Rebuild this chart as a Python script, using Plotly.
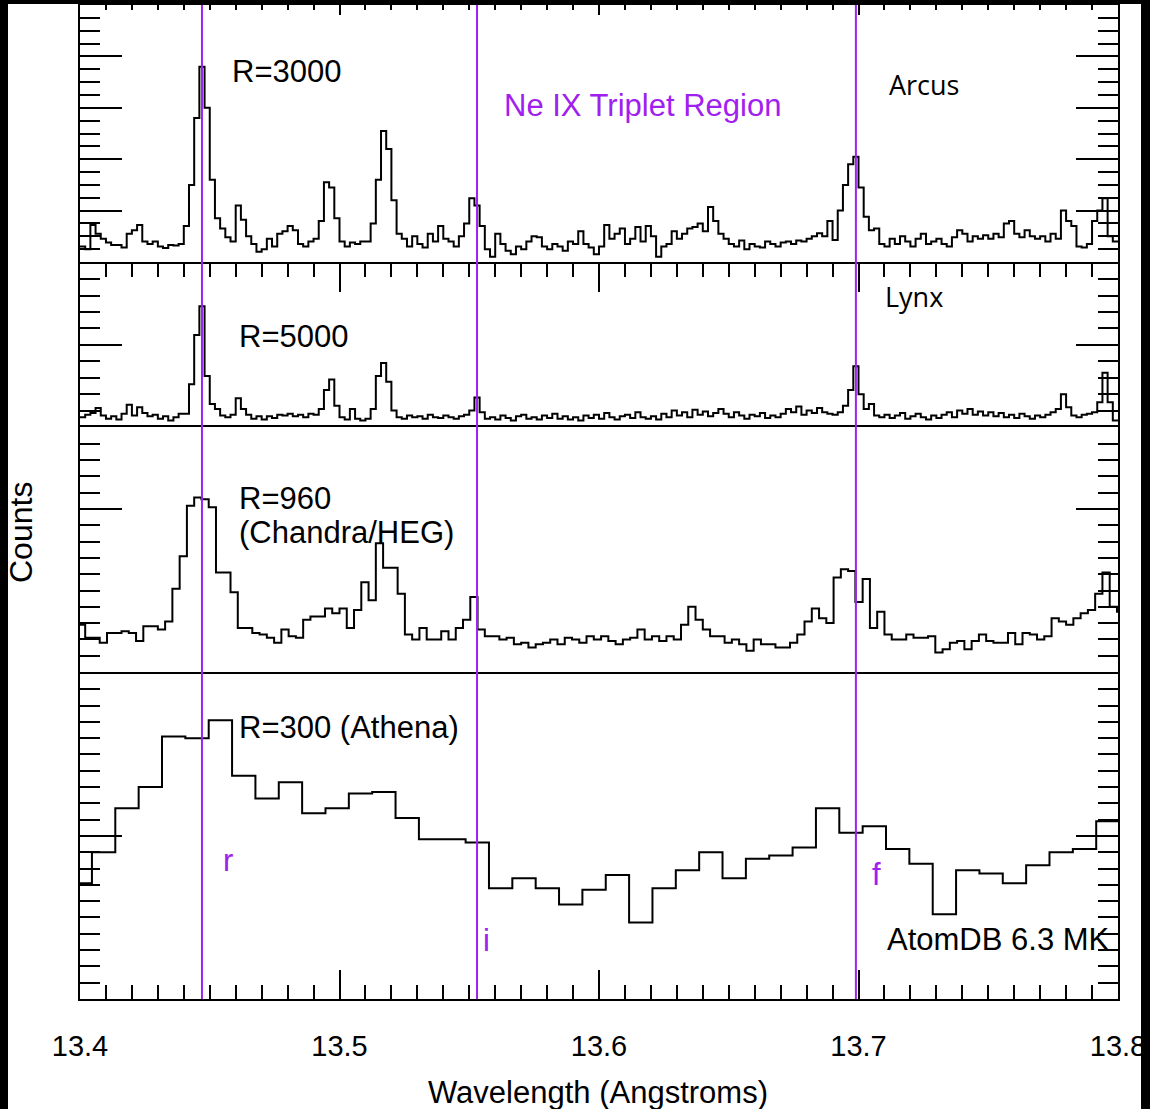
import numpy as np
import plotly.graph_objects as go

# ---------------- data ----------------
# Arcus (R=3000): bins of 0.002 A starting at 13.400
arcus_start, arcus_width = 13.400, 0.002
arcus_counts = [
    0.30, 0.25, 0.72, 0.55, 0.45,  0.38, 0.33, 0.33, 0.28, 0.55,
    0.62, 0.72, 0.40, 0.35, 0.40,  0.30, 0.27, 0.33, 0.32, 0.35,
    0.70, 1.50, 2.80, 3.80, 3.00,  1.60, 0.85, 0.65, 0.48, 0.40,
    1.10, 0.82, 0.50, 0.35, 0.20,  0.25, 0.45, 0.30, 0.55, 0.60,
    0.70, 0.62, 0.35, 0.30, 0.40,  0.45, 0.80, 1.55, 1.45, 0.85,
    0.40, 0.30, 0.38, 0.35, 0.40,  0.40, 0.75, 1.60, 2.55, 2.20,
    1.20, 0.55, 0.45, 0.30, 0.50,  0.35, 0.28, 0.55, 0.40, 0.70,
    0.45, 0.40, 0.30, 0.50, 0.75,  1.24, 1.10, 0.70, 0.25, 0.10,
    0.55, 0.35, 0.22, 0.15, 0.30,  0.25, 0.40, 0.50, 0.48, 0.30,
    0.25, 0.35, 0.30, 0.22, 0.40,  0.35, 0.60, 0.35, 0.28, 0.15,
    0.30, 0.72, 0.45, 0.55, 0.65,  0.35, 0.45, 0.68, 0.40, 0.70,
    0.50, 0.10, 0.30, 0.35, 0.60,  0.45, 0.55, 0.65, 0.68, 0.75,
    0.60, 1.07, 0.80, 0.55, 0.45,  0.35, 0.30, 0.42, 0.25, 0.35,
    0.30, 0.28, 0.40, 0.35, 0.30,  0.38, 0.40, 0.35, 0.42, 0.40,
    0.45, 0.50, 0.56, 0.50, 0.80,  0.43, 1.00, 1.50, 1.90, 2.05,
    1.45, 0.88, 0.62, 0.65, 0.35,  0.30, 0.45, 0.35, 0.50, 0.40,
    0.30, 0.45, 0.55, 0.35, 0.40,  0.45, 0.35, 0.30, 0.48, 0.62,
    0.55, 0.40, 0.50, 0.45, 0.52,  0.45, 0.55, 0.48, 0.75, 0.80,
    0.55, 0.48, 0.62, 0.50, 0.45,  0.50, 0.40, 0.55, 0.45, 1.00,
    0.80, 0.70, 0.30, 0.28, 0.35,  0.80, 1.00, 1.24, 0.50, 0.40,
]

# Lynx (R=5000): bins of 0.002 A starting at 13.400
lynx_start, lynx_width = 13.400, 0.002
lynx_counts = [
    0.12, 0.15, 0.17, 0.23, 0.14,  0.10, 0.13, 0.09, 0.16, 0.27,
    0.14, 0.24, 0.17, 0.13, 0.15,  0.10, 0.13, 0.08, 0.12, 0.16,
    0.16, 0.52, 1.12, 1.47, 0.62,  0.28, 0.22, 0.14, 0.12, 0.15,
    0.35, 0.22, 0.15, 0.10, 0.13,  0.09, 0.13, 0.11, 0.15, 0.14,
    0.16, 0.13, 0.15, 0.12, 0.16,  0.15, 0.22, 0.45, 0.58, 0.26,
    0.12, 0.09, 0.22, 0.10, 0.08,  0.10, 0.22, 0.62, 0.78, 0.55,
    0.20, 0.12, 0.10, 0.14, 0.12,  0.13, 0.10, 0.15, 0.12, 0.11,
    0.14, 0.12, 0.10, 0.13, 0.15,  0.20, 0.36, 0.18, 0.10, 0.12,
    0.09, 0.14, 0.11, 0.08, 0.13,  0.15, 0.10, 0.12, 0.09, 0.14,
    0.11, 0.16, 0.10, 0.13, 0.09,  0.12, 0.08, 0.14, 0.11, 0.15,
    0.10, 0.17, 0.12, 0.09, 0.13,  0.15, 0.11, 0.18, 0.12, 0.10,
    0.13, 0.09, 0.16, 0.12, 0.20,  0.14, 0.18, 0.12, 0.21, 0.15,
    0.19, 0.13, 0.17, 0.22, 0.16,  0.12, 0.18, 0.14, 0.10, 0.15,
    0.13, 0.17, 0.11, 0.14, 0.12,  0.16, 0.22, 0.18, 0.25, 0.15,
    0.20, 0.17, 0.23, 0.18, 0.16,  0.15, 0.18, 0.26, 0.45, 0.74,
    0.40, 0.22, 0.28, 0.14, 0.12,  0.15, 0.11, 0.14, 0.17, 0.10,
    0.13, 0.16, 0.12, 0.09, 0.14,  0.11, 0.15, 0.18, 0.12, 0.20,
    0.16, 0.22, 0.15, 0.19, 0.14,  0.18, 0.13, 0.17, 0.12, 0.15,
    0.11, 0.16, 0.13, 0.10, 0.14,  0.12, 0.15, 0.18, 0.22, 0.40,
    0.24, 0.14, 0.12, 0.15, 0.16,  0.18, 0.30, 0.66, 0.30, 0.08,
]

# Chandra/HEG (R=960): bins of 0.0028 A starting at 13.3992
heg_start, heg_width = 13.3992, 0.0028
heg_counts = [
    0.29, 0.21, 0.21, 0.18, 0.24, 0.24, 0.25, 0.24, 0.19, 0.28,
    0.28, 0.26, 0.31, 0.51, 0.71, 1.02, 1.07, 1.06, 1.01, 0.61,
    0.61, 0.49, 0.27, 0.27, 0.24, 0.23, 0.21, 0.18, 0.26, 0.22,
    0.21, 0.32, 0.34, 0.34, 0.39, 0.36, 0.39, 0.27, 0.38, 0.55,
    0.44, 0.79, 0.64, 0.64, 0.48, 0.23, 0.20, 0.27, 0.20, 0.20,
    0.25, 0.20, 0.27, 0.32, 0.46, 0.26, 0.22, 0.22, 0.20, 0.21,
    0.17, 0.18, 0.15, 0.17, 0.18, 0.20, 0.17, 0.21, 0.20, 0.18,
    0.22, 0.20, 0.22, 0.19, 0.17, 0.20, 0.21, 0.26, 0.20, 0.22,
    0.19, 0.22, 0.20, 0.29, 0.40, 0.32, 0.26, 0.22, 0.22, 0.18,
    0.20, 0.17, 0.13, 0.20, 0.17, 0.17, 0.15, 0.15, 0.18, 0.23,
    0.31, 0.39, 0.33, 0.30, 0.58, 0.63, 0.62, 0.43, 0.57, 0.27,
    0.37, 0.23, 0.20, 0.20, 0.23, 0.21, 0.21, 0.22, 0.12, 0.14,
    0.18, 0.19, 0.14, 0.19, 0.23, 0.19, 0.18, 0.18, 0.24, 0.17,
    0.24, 0.23, 0.20, 0.22, 0.33, 0.31, 0.29, 0.33, 0.36, 0.38,
    0.48, 0.61, 0.40, 0.37,
]

# Athena (R=300): bins of 0.009 A starting at 13.3956
athena_start, athena_width = 13.3956, 0.009
athena_counts = [
    0.71, 0.90, 1.17, 1.30, 1.61, 1.60, 1.71, 1.37, 1.23, 1.33,
    1.14, 1.17, 1.26, 1.27, 1.11, 0.98, 0.98, 0.96, 0.68, 0.74,
    0.68, 0.58, 0.67, 0.76, 0.47, 0.68, 0.79, 0.90, 0.74, 0.86,
    0.88, 0.93, 1.17, 1.02, 1.06, 0.92, 0.83, 0.52, 0.79, 0.77,
    0.71, 0.82, 0.90, 0.92, 1.09,
]

# Ne IX triplet lines (resonance, intercombination, forbidden)
line_names = ["r", "i", "f"]
line_waves = [13.447, 13.553, 13.699]

x_range = [13.4, 13.8]

# ---------------- layout geometry ----------------
W, H = 1150, 1109
ML, MR, MT, MB = 80, 32, 5, 110
PW, PH = W - ML - MR, H - MT - MB
bounds = [5, 262, 427, 672, 999]   # panel edges (pixels from top)


def py(p):  # pixel-from-top -> paper y
    return 1 - (p - MT) / PH


def px(p):  # pixel-from-left -> paper x
    return (p - ML) / PW


def wl(p):  # pixel-from-left -> wavelength
    return x_range[0] + (p - ML) / PW * (x_range[1] - x_range[0])


PURPLE = "#A020F0"
HELV = "Liberation Sans, Arial, sans-serif"
MYR = "Open Sans, sans-serif"

panels = [
    dict(counts=arcus_counts, start=arcus_start, width=arcus_width, yr=[0, 5.0], minor=0.25),
    dict(counts=lynx_counts, start=lynx_start, width=lynx_width, yr=[0, 2.01], minor=0.2),
    dict(counts=heg_counts, start=heg_start, width=heg_width, yr=[0, 1.503], minor=0.1),
    dict(counts=athena_counts, start=athena_start, width=athena_width, yr=[0, 2.006], minor=0.1),
]

fig = go.Figure()
layout = dict(
    width=W, height=H,
    margin=dict(l=ML, r=MR, t=MT, b=MB),
    paper_bgcolor="white", plot_bgcolor="white",
    showlegend=False,
    font=dict(family=HELV, color="black"),
)

# per-panel x-axis styling (line / mirror chosen so shared borders are drawn once)
xtick_cfg = [
    dict(side="top", ticks="inside", ticklen=10, mticks="inside", mlen=5, labels=False,
         showline=True, mirror=True),
    dict(side="top", ticks="inside", ticklen=30, mticks="inside", mlen=15, labels=False,
         showline=False, mirror=False),
    dict(side="bottom", ticks="", ticklen=0, mticks="", mlen=0, labels=False,
         showline=True, mirror=True),
    dict(side="bottom", ticks="inside", ticklen=29, mticks="inside", mlen=14, labels=True,
         showline=True, mirror=False),
]

for i, p in enumerate(panels):
    n = i + 1
    sfx = "" if n == 1 else str(n)
    vals = np.array(p["counts"], dtype=float)
    edges = p["start"] + p["width"] * np.arange(len(vals) + 1)
    yv = np.append(vals, vals[-1])
    fig.add_trace(go.Scatter(
        x=edges, y=yv, mode="lines", line=dict(shape="hv", color="black", width=2),
        xaxis="x" + sfx, yaxis="y" + sfx, hoverinfo="skip",
    ))
    c = xtick_cfg[i]
    xa = dict(
        domain=[0, 1], anchor="y" + sfx, range=x_range, side=c["side"],
        showline=c["showline"], mirror=c["mirror"], linecolor="black", linewidth=2,
        showgrid=False, zeroline=False,
        ticks=c["ticks"], ticklen=c["ticklen"], tickwidth=2, tickcolor="black",
        tick0=13.4, dtick=0.1, showticklabels=c["labels"],
        minor=dict(ticks=c["mticks"], ticklen=c["mlen"], tickwidth=2,
                   tickcolor="black", dtick=0.01, tick0=13.4, showgrid=False),
    )
    if n > 1:
        xa["matches"] = "x"
    if c["labels"]:
        xa.update(tickformat=".1f", tickfont=dict(size=29, family=HELV),
                  ticklabelstandoff=20)
    layout["xaxis" + sfx] = xa
    layout["yaxis" + sfx] = dict(
        domain=[py(bounds[i + 1]), py(bounds[i])], anchor="x" + sfx,
        range=p["yr"], showline=True, mirror="ticks", linecolor="black", linewidth=2,
        showgrid=False, zeroline=False,
        ticks="inside", ticklen=42, tickwidth=2, tickcolor="black",
        tick0=0, dtick=1, showticklabels=False,
        minor=dict(ticks="inside", ticklen=20, tickwidth=2, tickcolor="black",
                   dtick=p["minor"], tick0=0, showgrid=False),
    )

fig.update_layout(**layout)

# Ne IX line markers across all panels
for w in line_waves:
    fig.add_shape(type="line", xref="x", yref="paper", x0=w, x1=w, y0=0, y1=1,
                  line=dict(color=PURPLE, width=2), layer="above")

# black framing stripes of the original image
for (x0, x1, y0, y1) in [(px(0) - 0.01, px(8), -0.2, 1.02),
                         (px(0) - 0.01, px(1150) + 0.01, py(4), 1.02),
                         (px(1141), px(1150) + 0.01, -0.2, 1.02)]:
    fig.add_shape(type="rect", xref="paper", yref="paper", x0=x0, x1=x1, y0=y0, y1=y1,
                  fillcolor="black", line=dict(width=0), layer="above")


def ann(text, x, y, size=31, color="black", family=HELV, xanchor="left", xref="x", angle=0):
    fig.add_annotation(text=text, x=x, y=y, xref=xref, yref="paper", showarrow=False,
                       xanchor=xanchor, yanchor="middle", textangle=angle,
                       font=dict(size=size, color=color, family=family))


ann("R=3000", wl(230), py(72))
ann("Ne IX Triplet Region", wl(502), py(105), color=PURPLE)
ann("Arcus", wl(887), py(85), size=27, family=MYR)
ann("Lynx", wl(883), py(296), size=27, family=MYR)
ann("R=5000", wl(237), py(336))
ann("R=960", wl(237), py(498))
ann("(Chandra/HEG)", wl(237), py(532))
ann("R=300 (Athena)", wl(237), py(727))
ann(line_names[0], wl(228), py(860), color=PURPLE, xanchor="center")
ann(line_names[1], wl(486), py(940), color=PURPLE, xanchor="center")
ann(line_names[2], wl(876), py(874), color=PURPLE, xanchor="center")
ann("AtomDB 6.3 MK", wl(885), py(939))
ann("Counts", px(21), py(533), size=32, xanchor="center", xref="paper", angle=-90)
ann("Wavelength (Angstroms)", px(598), py(1092), size=31, xanchor="center", xref="paper")

fig.write_html(
    "out.html",
    config={"displayModeBar": False},
    post_script="document.body.style.margin='0px';document.body.style.padding='0px';"
                "document.documentElement.style.overflow='hidden';",
)
